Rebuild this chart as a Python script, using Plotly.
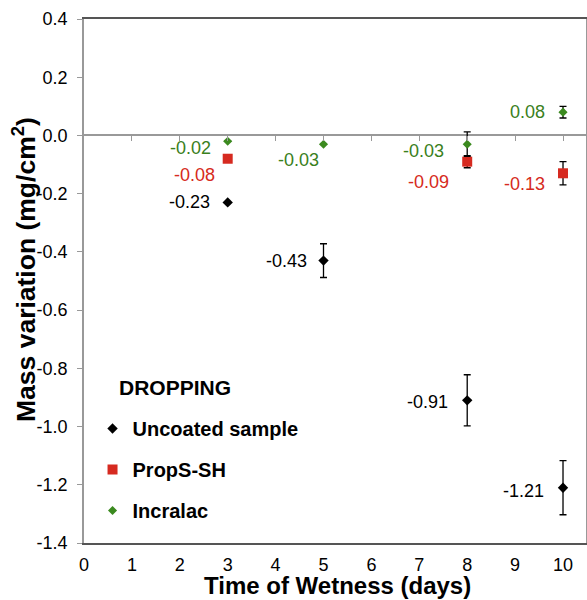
import plotly.graph_objects as go

# ---- data ----
days = [3, 5, 8, 10]
uncoated = [-0.23, -0.43, -0.91, -1.21]
uncoated_err = [0.0, 0.058, 0.088, 0.093]
props = [-0.08, None, -0.09, -0.13]
props_err = [0.0, 0.0, 0.021, 0.04]
incralac = [-0.02, -0.03, -0.03, 0.08]
incralac_err = [0.0, 0.0, 0.042, 0.02]

uncoated_labels = ["-0.23", "-0.43", "-0.91", "-1.21"]
props_labels = ["-0.08", None, "-0.09", "-0.13"]
incralac_labels = ["-0.02", "-0.03", "-0.03", "0.08"]

x_ticks = list(range(0, 11))
y_ticks = [0.4, 0.2, 0.0, -0.2, -0.4, -0.6, -0.8, -1.0, -1.2, -1.4]

# ---- styles ----
BLACK = "#000000"
RED = "#d62a20"
GREEN = "#3b8a1f"
GREEN_TXT = "#3a801c"
FONT = "Liberation Sans, Arial, Helvetica, sans-serif"

# label pixel offsets (xshift, yshift) per point
unc_off = [(-16, 0), (-15, 0), (-17, -2), (-17, -3)]
prop_off = [(-11, -16), None, (-16, -20), (-16, -11)]
inc_off = [(-15, -7), (-3, -16), (-21, -7), (-16, 0)]

fig = go.Figure()

series = [
    ("<b>Uncoated sample</b>", uncoated, uncoated_err, dict(symbol="diamond", size=8, color=BLACK), "g1"),
    ("<b>PropS-SH</b>", props, props_err, dict(symbol="square", size=10, color=RED), "g2"),
    ("<b>Incralac</b>", incralac, incralac_err, dict(symbol="diamond", size=7, color=GREEN), "g3"),
]
for name, ys, errs, mk, grp in series:
    fig.add_trace(go.Scatter(
        x=days, y=ys, mode="markers", name=name, legendgroup=grp,
        marker=mk,
        error_y=dict(type="data", array=errs, visible=True, color=BLACK,
                     thickness=1.3, width=3.5),
    ))

# invisible trace for zero-line tick axis
fig.add_trace(go.Scatter(x=[None], y=[None], xaxis="x2", showlegend=False,
                         hoverinfo="skip"))

annos = []
for ys, labels, offs, col in [
    (uncoated, uncoated_labels, unc_off, BLACK),
    (props, props_labels, prop_off, RED),
    (incralac, incralac_labels, inc_off, GREEN_TXT),
]:
    for xv, yv, lab, off in zip(days, ys, labels, offs):
        if yv is None or lab is None:
            continue
        annos.append(dict(x=xv, y=yv, text=lab, showarrow=False,
                          xanchor="right", yanchor="middle",
                          xshift=off[0], yshift=off[1],
                          font=dict(family=FONT, size=18, color=col)))

pl, pt, pw, ph = 84, 19, 502, 524
annos.append(dict(x=(117 - pl) / pw, y=(pt + ph - 388) / ph, xref="paper", yref="paper",
                  text="<b>DROPPING</b>",
                  showarrow=False, xanchor="left", yanchor="middle",
                  font=dict(family=FONT, size=21, color=BLACK)))
# y-axis title
annos.append(dict(x=(24 - pl) / pw, y=(pt + ph - 270) / ph, xref="paper", yref="paper",
                  text="<b>Mass variation (mg/cm<sup>2</sup>)</b>", textangle=-90,
                  showarrow=False, xanchor="center", yanchor="middle",
                  font=dict(family=FONT, size=26.5, color=BLACK)))
# x-axis title
annos.append(dict(x=(337 - pl) / pw, y=(pt + ph - 585) / ph, xref="paper", yref="paper",
                  text="<b>Time of Wetness (days)</b>",
                  showarrow=False, xanchor="center", yanchor="middle",
                  font=dict(family=FONT, size=24, color=BLACK)))

XR = [0, 10.48]
fig.update_layout(
    width=587, height=600,
    margin=dict(l=84, r=1, t=19, b=57, autoexpand=False),
    plot_bgcolor="white", paper_bgcolor="white",
    font=dict(family=FONT, color=BLACK),
    showlegend=True,
    legend=dict(x=0.017, y=(pt + ph - 409) / ph, xanchor="left", yanchor="top",
                font=dict(family=FONT, size=20, color=BLACK),
                bgcolor="rgba(0,0,0,0)", tracegroupgap=12, itemwidth=30),
    xaxis=dict(range=XR, tickvals=x_ticks, ticktext=[str(v) for v in x_ticks],
               showgrid=False, zeroline=False, showline=True, mirror=True,
               linecolor="#555555", linewidth=1.5, ticks="", automargin=False,
               tickfont=dict(family=FONT, size=18, color=BLACK),
               ticklabelstandoff=5),
    xaxis2=dict(range=XR, overlaying="x", anchor="free", position=1.4 / 1.8,
                tickvals=x_ticks[1:], ticks="outside", ticklen=5, tickwidth=1.3,
                tickcolor="#999999", showticklabels=False, showline=False,
                showgrid=False, zeroline=False, automargin=False),
    yaxis=dict(range=[-1.4, 0.4], tickvals=y_ticks,
               ticktext=[f"{v:.1f}" for v in y_ticks], automargin=False,
               showgrid=False, zeroline=True, zerolinecolor="#999999", zerolinewidth=1.5,
               showline=True, mirror=True, linecolor="#999999", linewidth=1.5,
               ticks="outside", ticklen=5, tickwidth=1.3, tickcolor="#999999",
               tickfont=dict(family=FONT, size=18, color=BLACK),
               ticklabelstandoff=6),
    annotations=annos,
)

fig.write_html("out.html", config={"displayModeBar": False},
               post_script="document.body.style.margin='0';document.body.style.overflow='hidden';")
